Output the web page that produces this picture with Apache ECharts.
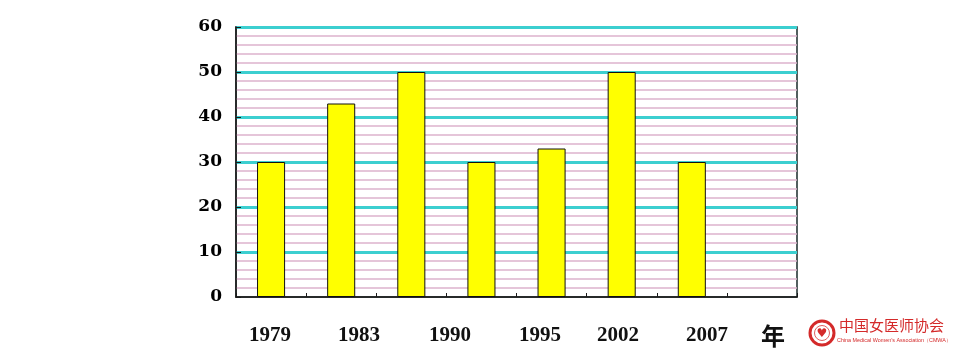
<!DOCTYPE html>
<html><head><meta charset="utf-8">
<script src="https://cdn.jsdelivr.net/npm/echarts@6/dist/echarts.min.js"></script>
<style>html,body{margin:0;padding:0;background:#fff}#c{width:960px;height:350px}</style>
</head><body><div id="c"></div>
<script>
var slots = ['s1','s2','s3','s4','s5','s6','s7','s8'];
var values = [30, 43, 50, 30, 33, 50, 30, null];
var yearLabels = ['1979','1983','1990','1995','2002','2007','年'];
var yearLabelX = [270, 359, 450, 540, 618, 707, 773];

var chart = echarts.init(document.getElementById('c'));
var graphics = yearLabels.map(function(t, i){
  var cjk = t === '年';
  return {type:'text', x: yearLabelX[i], y: 336,
    style:{text:t, fill:'#111', align:'center', verticalAlign:'middle',
      font: cjk ? 'bold 24px "Noto Sans CJK SC"' : 'bold 21px "Liberation Serif"'}};
});
graphics.push({type:'circle', shape:{cx:822, cy:333, r:12}, style:{fill:'#fff', stroke:'#d42a2a', lineWidth:3}});
graphics.push({type:'circle', shape:{cx:822, cy:333, r:7.5}, style:{fill:'#fff', stroke:'#e06060', lineWidth:1}});
graphics.push({type:'text', x:822, y:334, style:{text:'♥', fill:'#d42a2a', align:'center', verticalAlign:'middle', font:'12px "DejaVu Sans"'}});
graphics.push({type:'text', x:839, y:325, style:{text:'中国女医师协会', fill:'#d42a2a', align:'left', verticalAlign:'middle', font:'15px "Noto Sans CJK SC"'}});
graphics.push({type:'text', x:837, y:341, style:{text:'China Medical Women\u2019s Association（CMWA）', fill:'#d42a2a', align:'left', verticalAlign:'middle', font:'5.4px "Liberation Sans"'}});

chart.setOption({
  animation:false,
  backgroundColor:'#fff',
  grid:{left:236, right:163, top:27, bottom:53, show:true, borderColor:'#1a2a2a', borderWidth:1.5, backgroundColor:'#fff'},
  xAxis:{type:'category', data:slots, boundaryGap:true,
    axisLine:{lineStyle:{color:'#1a1a1a', width:1.5}},
    axisTick:{show:true, inside:true, length:4, lineStyle:{color:'#1a1a1a'}},
    axisLabel:{show:false}, z:5},
  yAxis:[
    {type:'value', min:0, max:60, interval:10,
     axisLine:{show:true, lineStyle:{color:'#1a1a1a', width:1.5}},
     axisTick:{show:true, inside:true, length:5, lineStyle:{color:'#1a1a1a'}},
     axisLabel:{margin:14, color:'#000', fontFamily:'DejaVu Serif', fontWeight:'bold', fontSize:17},
     splitLine:{show:true, lineStyle:{color:['rgba(0,0,0,0)','#3ccfd0','#3ccfd0','#3ccfd0','#3ccfd0','#3ccfd0','#3ccfd0'], width:3}}},
    {type:'value', min:0, max:60, interval:2, position:'left',
     axisLine:{show:false}, axisTick:{show:false}, axisLabel:{show:false},
     splitLine:{show:true, lineStyle:{color:['rgba(0,0,0,0)','#dcb2cc','#dcb2cc','#dcb2cc','#dcb2cc'], width:1.5}}}
  ],
  series:[{type:'bar', data:values, yAxisIndex:0, barWidth:'40%', z:10,
    itemStyle:{color:'#ffff00', borderColor:'#111', borderWidth:1}}],
  graphic: graphics
});
</script></body></html>
